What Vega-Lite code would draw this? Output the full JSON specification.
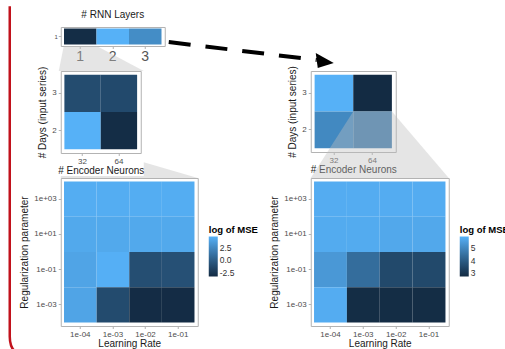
{
  "$schema": "https://vega.github.io/schema/vega-lite/v6.json",
  "padding": {"left": 3.75, "top": 0, "right": 0, "bottom": 0},
  "background": "white",
  "columns": 2,
  "bounds": "flush",
  "spacing": {"row": 25, "column": 113},
  "datasets": {
    "rnn": [
      {"layers": "1", "row": "1", "v": 0.02},
      {"layers": "2", "row": "1", "v": 1.0},
      {"layers": "3", "row": "1", "v": 0.75}
    ],
    "days_left": [
      {"neurons": "32", "days": "3", "v": 0.27},
      {"neurons": "64", "days": "3", "v": 0.25},
      {"neurons": "32", "days": "2", "v": 1.0},
      {"neurons": "64", "days": "2", "v": 0.02}
    ],
    "days_right": [
      {"neurons": "32", "days": "3", "v": 1.0},
      {"neurons": "64", "days": "3", "v": 0.0},
      {"neurons": "32", "days": "2", "v": 0.72},
      {"neurons": "64", "days": "2", "v": 0.62}
    ],
    "grid_left": [
      {"lr": "1e-04", "reg": "1e+03", "logmse": 4.5},
      {"lr": "1e-03", "reg": "1e+03", "logmse": 4.5},
      {"lr": "1e-02", "reg": "1e+03", "logmse": 4.5},
      {"lr": "1e-01", "reg": "1e+03", "logmse": 4.5},
      {"lr": "1e-04", "reg": "1e+01", "logmse": 4.25},
      {"lr": "1e-03", "reg": "1e+01", "logmse": 4.25},
      {"lr": "1e-02", "reg": "1e+01", "logmse": 4.25},
      {"lr": "1e-01", "reg": "1e+01", "logmse": 4.25},
      {"lr": "1e-04", "reg": "1e-01", "logmse": 4.0},
      {"lr": "1e-03", "reg": "1e-01", "logmse": 4.6},
      {"lr": "1e-02", "reg": "1e-01", "logmse": -1.0},
      {"lr": "1e-01", "reg": "1e-01", "logmse": -0.9},
      {"lr": "1e-04", "reg": "1e-03", "logmse": 4.0},
      {"lr": "1e-03", "reg": "1e-03", "logmse": -1.2},
      {"lr": "1e-02", "reg": "1e-03", "logmse": -3.2},
      {"lr": "1e-01", "reg": "1e-03", "logmse": -3.2}
    ],
    "grid_right": [
      {"lr": "1e-04", "reg": "1e+03", "logmse": 5.85},
      {"lr": "1e-03", "reg": "1e+03", "logmse": 5.85},
      {"lr": "1e-02", "reg": "1e+03", "logmse": 5.85},
      {"lr": "1e-01", "reg": "1e+03", "logmse": 5.85},
      {"lr": "1e-04", "reg": "1e+01", "logmse": 5.82},
      {"lr": "1e-03", "reg": "1e+01", "logmse": 5.82},
      {"lr": "1e-02", "reg": "1e+01", "logmse": 5.75},
      {"lr": "1e-01", "reg": "1e+01", "logmse": 5.75},
      {"lr": "1e-04", "reg": "1e-01", "logmse": 5.4},
      {"lr": "1e-03", "reg": "1e-01", "logmse": 4.4},
      {"lr": "1e-02", "reg": "1e-01", "logmse": 3.5},
      {"lr": "1e-01", "reg": "1e-01", "logmse": 3.5},
      {"lr": "1e-04", "reg": "1e-03", "logmse": 5.85},
      {"lr": "1e-03", "reg": "1e-03", "logmse": 2.75},
      {"lr": "1e-02", "reg": "1e-03", "logmse": 2.75},
      {"lr": "1e-01", "reg": "1e-03", "logmse": 2.75}
    ]
  },
  "concat": [
    {
      "width": 104,
      "height": 19,
      "title": {"text": "# RNN Layers", "fontSize": 10, "fontWeight": "normal", "color": "#1a1a1a", "offset": 7, "anchor": "middle", "frame": "group"},
      "layer": [
        {
          "data": {"values": [{}]},
          "mark": {"type": "point", "shape": "M -16.5 9.5 L 16.5 9.5 L 63.5 34.5 L -21.5 34.5 Z", "size": 4, "filled": true, "fill": "#bfbfbf", "fillOpacity": 0.4, "strokeWidth": 0, "opacity": 1},
          "encoding": {"x": {"datum": "1", "type": "nominal"}, "y": {"datum": "1", "type": "nominal"}}
        },
        {
          "data": {"name": "rnn"},
          "mark": {"type": "rect"},
          "encoding": {
            "x": {"field": "layers", "type": "nominal", "sort": ["1", "2", "3"], "scale": {"type": "band", "paddingInner": 0, "paddingOuter": 0.1}, "axis": {"title": null, "labelFontSize": 14, "labelColor": "#555555", "labelPadding": 1}},
            "y": {"field": "row", "type": "nominal", "scale": {"type": "band", "paddingInner": 0, "paddingOuter": 0.1}, "axis": {"title": null, "labelFontSize": 6, "labelPadding": 1}},
            "color": {"field": "v", "type": "quantitative", "scale": {"domain": [0, 1], "range": ["#132B43", "#56B1F7"], "interpolate": "lab"}, "legend": null}
          }
        },
        {
          "data": {"values": [{}]},
          "mark": {"type": "point", "shape": "M 23.5 5.5 L 171.5 23.5", "size": 4, "filled": false, "stroke": "black", "strokeWidth": 4, "strokeDash": [22, 15], "strokeCap": "butt", "opacity": 1},
          "encoding": {"x": {"datum": "3", "type": "nominal"}, "y": {"datum": "1", "type": "nominal"}}
        },
        {
          "data": {"values": [{}]},
          "mark": {"type": "point", "shape": "M 170.5 16.5 L 188.5 26.5 L 172.5 31.5 Z", "size": 4, "filled": true, "fill": "black", "strokeWidth": 0, "opacity": 1},
          "encoding": {"x": {"datum": "3", "type": "nominal"}, "y": {"datum": "1", "type": "nominal"}}
        }
      ]
    },
    {
      "width": 138,
      "height": 19,
      "view": {"stroke": null, "fill": null},
      "data": {"values": []},
      "mark": "point",
      "encoding": {}
    },
    {
      "width": 80,
      "height": 82,
      "layer": [
        {
          "data": {"values": [{}]},
          "mark": {"type": "point", "shape": "M 61.2 31.5 L 115.2 47.4 L -21.8 47.4 L -21.8 45.4 L 61.2 45.4 Z", "size": 4, "filled": true, "fill": "#bfbfbf", "fillOpacity": 0.4, "strokeWidth": 0, "opacity": 1},
          "encoding": {"x": {"datum": "32", "type": "nominal"}, "y": {"datum": "2", "type": "nominal"}}
        },
        {
          "data": {"name": "days_left"},
          "mark": {"type": "rect"},
          "encoding": {
            "x": {"field": "neurons", "type": "nominal", "sort": ["32", "64"], "scale": {"type": "band", "paddingInner": 0, "paddingOuter": 0.1}, "axis": {"title": "# Encoder Neurons"}},
            "y": {"field": "days", "type": "nominal", "sort": ["3", "2"], "scale": {"type": "band", "paddingInner": 0, "paddingOuter": 0.1}, "axis": {"title": "# Days (input series)"}},
            "color": {"field": "v", "type": "quantitative", "scale": {"domain": [0, 1], "range": ["#132B43", "#56B1F7"], "interpolate": "lab"}, "legend": null}
          }
        }
      ]
    },
    {
      "width": 85,
      "height": 81,
      "layer": [
        {
          "data": {"name": "days_right"},
          "mark": {"type": "rect"},
          "encoding": {
            "x": {"field": "neurons", "type": "nominal", "sort": ["32", "64"], "scale": {"type": "band", "paddingInner": 0, "paddingOuter": 0.1}, "axis": {"title": "# Encoder Neurons"}},
            "y": {"field": "days", "type": "nominal", "sort": ["3", "2"], "scale": {"type": "band", "paddingInner": 0, "paddingOuter": 0.1}, "axis": {"title": "# Days (input series)"}},
            "color": {"field": "v", "type": "quantitative", "scale": {"domain": [0, 1], "range": ["#132B43", "#56B1F7"], "interpolate": "lab"}, "legend": null}
          }
        },
        {
          "data": {"values": [{}]},
          "mark": {"type": "point", "shape": "M -19.3 -18.4 L 19.4 -18.4 L 76.2 48.1 L -61.8 48.1 Z", "size": 4, "filled": true, "fill": "#bfbfbf", "fillOpacity": 0.4, "strokeWidth": 0, "opacity": 1},
          "encoding": {"x": {"datum": "64", "type": "nominal"}, "y": {"datum": "2", "type": "nominal"}}
        }
      ]
    },
    {
      "width": 137,
      "height": 148,
      "layer": [
        {
          "data": {"name": "grid_left"},
          "mark": {"type": "rect"},
          "encoding": {
            "x": {"field": "lr", "type": "nominal", "sort": ["1e-04", "1e-03", "1e-02", "1e-01"], "scale": {"type": "band", "paddingInner": 0, "paddingOuter": 0.1}, "axis": {"title": "Learning Rate"}},
            "y": {"field": "reg", "type": "nominal", "sort": ["1e+03", "1e+01", "1e-01", "1e-03"], "scale": {"type": "band", "paddingInner": 0, "paddingOuter": 0.1}, "axis": {"title": "Regularization parameter"}},
            "color": {"field": "logmse", "type": "quantitative", "scale": {"domain": [-3.3, 4.7], "range": ["#132B43", "#56B1F7"], "interpolate": "lab"}, "legend": {"title": "log of MSE", "orient": "none", "legendX": 148, "legendY": 47, "values": [-2.5, 0, 2.5], "labelExpr": "datum.value < 0 ? '-' + format(-datum.value, '.1f') : format(datum.value, '.1f')"}}
          }
        },
        {
          "data": {"values": [{}]},
          "mark": {"type": "point", "shape": "M -70.57 -192.85 L -70.57 137.4 Q -70.57 157.4 -50.57 157.4", "size": 4, "filled": false, "stroke": "#c1121c", "strokeWidth": 2.5, "opacity": 1},
          "encoding": {"x": {"datum": "1e-04", "type": "nominal"}, "y": {"datum": "1e+03", "type": "nominal"}}
        }
      ]
    },
    {
      "width": 138,
      "height": 148,
      "data": {"name": "grid_right"},
      "mark": {"type": "rect"},
      "encoding": {
        "x": {"field": "lr", "type": "nominal", "sort": ["1e-04", "1e-03", "1e-02", "1e-01"], "scale": {"type": "band", "paddingInner": 0, "paddingOuter": 0.1}, "axis": {"title": "Learning Rate"}},
        "y": {"field": "reg", "type": "nominal", "sort": ["1e+03", "1e+01", "1e-01", "1e-03"], "scale": {"type": "band", "paddingInner": 0, "paddingOuter": 0.1}, "axis": {"title": "Regularization parameter"}},
        "color": {"field": "logmse", "type": "quantitative", "scale": {"domain": [2.7, 5.95], "range": ["#132B43", "#56B1F7"], "interpolate": "lab"}, "legend": {"title": "log of MSE", "orient": "none", "legendX": 149, "legendY": 47, "values": [3, 4, 5], "format": "d"}}
      }
    }
  ],
  "resolve": {"scale": {"color": "independent", "x": "independent", "y": "independent"}, "legend": {"color": "independent"}},
  "config": {
    "font": "Liberation Sans",
    "view": {"stroke": "#b3b3b3", "strokeWidth": 1, "fill": "white"},
    "axis": {"domain": false, "grid": false, "ticks": true, "tickColor": "#b3b3b3", "tickSize": 2.5, "tickWidth": 1, "labelColor": "#4d4d4d", "labelFontSize": 8, "labelPadding": 1.5, "titleFontSize": 10, "titleFontWeight": "normal", "titleColor": "#1a1a1a", "titlePadding": 3, "labelFont": "Liberation Sans", "titleFont": "Liberation Sans", "zindex": 1},
    "axisX": {"labelAngle": 0, "titlePadding": 0.5},
    "axisY": {"titlePadding": 4, "labelPadding": 2},
    "legend": {"titleFontSize": 9.5, "titleFontWeight": "bold", "titleColor": "#000000", "labelFontSize": 8.5, "labelColor": "#333333", "gradientLength": 40, "gradientThickness": 9, "gradientStrokeWidth": 0, "titlePadding": 2, "labelOffset": 2, "labelOverlap": false, "titleFont": "Liberation Sans", "labelFont": "Liberation Sans"}
  }
}
